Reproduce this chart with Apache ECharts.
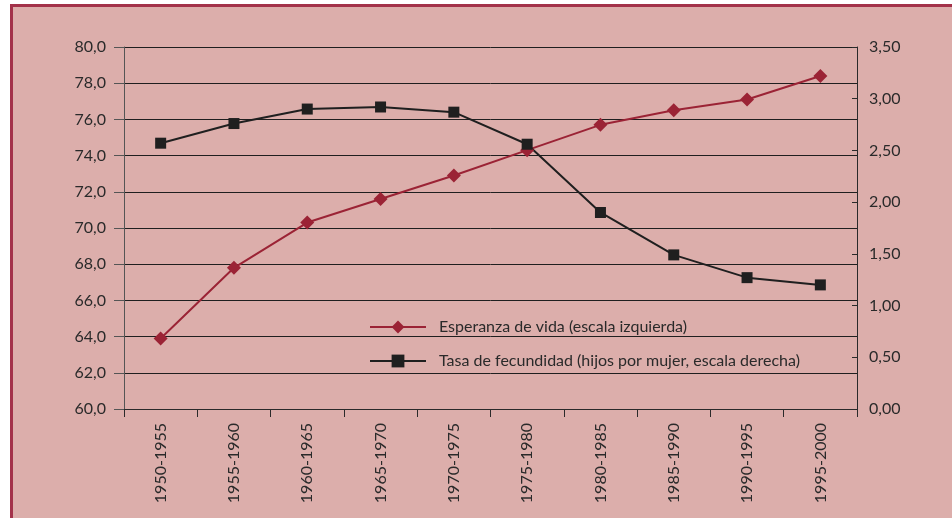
<!DOCTYPE html>
<html>
<head>
<meta charset="utf-8">
<script src="https://cdn.jsdelivr.net/npm/echarts@6/dist/echarts.min.js"></script>
<style>
html,body{margin:0;padding:0;background:#fff;}
#c{width:952px;height:518px;}
</style>
</head>
<body>
<div id="c"></div>
<script>
const categories = ['1950-1955','1955-1960','1960-1965','1965-1970','1970-1975','1975-1980','1980-1985','1985-1990','1990-1995','1995-2000'];
const esperanza = [63.9, 67.8, 70.3, 71.6, 72.9, 74.3, 75.7, 76.5, 77.1, 78.4];
const fecundidad = [2.57, 2.76, 2.90, 2.92, 2.87, 2.56, 1.90, 1.49, 1.27, 1.20];
const seriesNames = ['Esperanza de vida (escala izquierda)', 'Tasa de fecundidad (hijos por mujer, escala derecha)'];

const FONT = 'Lato';
const chart = echarts.init(document.getElementById('c'));
chart.setOption({
  backgroundColor: '#ffffff',
  animation: false,
  textStyle: {fontFamily: FONT},
  graphic: [{
    type: 'rect', z: -10, silent: true,
    shape: {x: 11.5, y: 5.5, width: 1000, height: 1000},
    style: {fill: '#dcaeab', stroke: '#a3324a', lineWidth: 3}
  }],
  grid: {left: 124, right: 95, top: 47, bottom: 109, containLabel: false},
  legend: {
    orient: 'vertical', left: 364, top: 314,
    itemWidth: 56, itemHeight: 16, itemGap: 18,
    textStyle: {fontFamily: FONT, fontSize: 16, color: '#2a2a2a', padding: [0,0,0,8]},
    data: seriesNames
  },
  xAxis: {
    type: 'category', data: categories, boundaryGap: true,
    axisLine: {show: true, lineStyle: {color: '#2a2a2a', width: 1}},
    axisTick: {show: true, length: 8, inside: false, lineStyle: {color: '#2a2a2a'}},
    axisLabel: {rotate: 90, fontSize: 16, color: '#2a2a2a', fontFamily: FONT, margin: 14, interval: 0}
  },
  yAxis: [{
    type: 'value', min: 60, max: 80, interval: 2,
    axisLine: {show: true, lineStyle: {color: '#555', width: 1}},
    axisTick: {show: true, length: 10, inside: false, lineStyle: {color: '#555'}},
    axisLabel: {fontSize: 16, color: '#2a2a2a', fontFamily: FONT, margin: 18,
      formatter: v => v.toFixed(1).replace('.', ',')},
    splitLine: {show: true, lineStyle: {color: '#1f1f1f', width: 1}}
  }, {
    type: 'value', min: 0, max: 3.5, interval: 0.5, position: 'right',
    axisLine: {show: true, lineStyle: {color: '#2a2a2a', width: 1}},
    axisTick: {show: true, length: 5, inside: true, lineStyle: {color: '#2a2a2a'}},
    axisLabel: {fontSize: 16, color: '#2a2a2a', fontFamily: FONT, margin: 12,
      formatter: v => v.toFixed(2).replace('.', ',')},
    splitLine: {show: false}
  }],
  series: [{
    name: seriesNames[0], type: 'line', yAxisIndex: 0, data: esperanza,
    symbol: 'diamond', symbolSize: 14,
    lineStyle: {color: '#9b2335', width: 2},
    itemStyle: {color: '#9b2335'}
  }, {
    name: seriesNames[1], type: 'line', yAxisIndex: 1, data: fecundidad,
    symbol: 'rect', symbolSize: 11,
    lineStyle: {color: '#1f1f1f', width: 2},
    itemStyle: {color: '#1f1f1f'}
  }]
});
</script>
</body>
</html>
